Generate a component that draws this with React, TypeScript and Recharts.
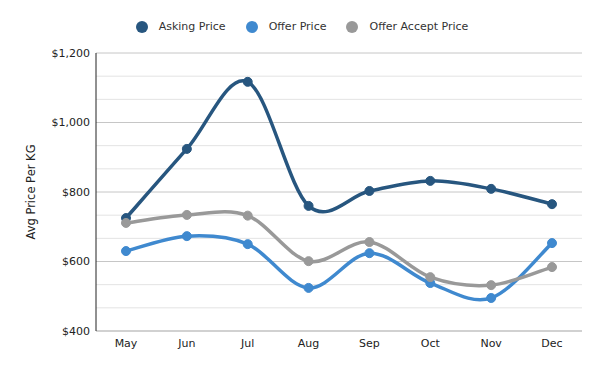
import React from 'react';
import { LineChart, Line, XAxis, YAxis, CartesianGrid, Legend } from 'recharts';

const months = ['May', 'Jun', 'Jul', 'Aug', 'Sep', 'Oct', 'Nov', 'Dec'];
const askingPrice = [725, 924, 1117, 760, 803, 832, 809, 765];
const offerPrice = [630, 673, 650, 524, 624, 538, 495, 653];
const offerAcceptPrice = [711, 734, 732, 601, 656, 555, 532, 584];

const majorTicks = [400, 600, 800, 1000, 1200];
const minorTicks = [466.67, 533.33, 666.67, 733.33, 866.67, 933.33, 1066.67, 1133.33];

const seriesInfo = [
  { key: 'asking', name: 'Asking Price', color: '#27567f' },
  { key: 'offer', name: 'Offer Price', color: '#3f89cf' },
  { key: 'accept', name: 'Offer Accept Price', color: '#999999' },
];

const chartData = months.map((m, i) => ({
  month: m,
  asking: askingPrice[i],
  offer: offerPrice[i],
  accept: offerAcceptPrice[i],
}));

const FONT = '"DejaVu Sans", Verdana, sans-serif';

// excel-like smoothing (catmull-rom through the points)
const smoothCurve = (context: any) => {
  let pts: number[][] = [];
  return {
    areaStart() {},
    areaEnd() {},
    lineStart() { pts = []; },
    point(x: number, y: number) { pts.push([+x, +y]); },
    lineEnd() {
      if (!pts.length) return;
      context.moveTo(pts[0][0], pts[0][1]);
      for (let i = 0; i < pts.length - 1; i++) {
        const p0 = pts[i - 1] || pts[i];
        const p1 = pts[i];
        const p2 = pts[i + 1];
        const p3 = pts[i + 2] || p2;
        context.bezierCurveTo(
          p1[0] + (p2[0] - p0[0]) / 6, p1[1] + (p2[1] - p0[1]) / 6,
          p2[0] - (p3[0] - p1[0]) / 6, p2[1] - (p3[1] - p1[1]) / 6,
          p2[0], p2[1]
        );
      }
    },
  };
};

const money = (v: number) => '$' + v.toLocaleString('en-US');

const renderLegend = () => (
  <div style={{ display: 'flex', justifyContent: 'center', alignItems: 'center', paddingLeft: 4, fontFamily: FONT, fontSize: 11, color: '#333' }}>
    {seriesInfo.map((s, i) => (
      <div key={s.key} style={{ display: 'flex', alignItems: 'center', marginRight: i < seriesInfo.length - 1 ? 20 : 0 }}>
        <span style={{ width: 12, height: 12, borderRadius: 6, background: s.color, marginRight: 11, display: 'inline-block' }} />
        <span>{s.name}</span>
      </div>
    ))}
  </div>
);

export default function App() {
  return (
    <div style={{ position: 'absolute', left: 0, top: 0, width: 600, height: 371, background: '#fff' }}>
      <LineChart width={600} height={371} data={chartData} margin={{ top: 53, right: 18, bottom: 10, left: 20 }}>
        <CartesianGrid yAxisId="left" vertical={false} stroke="#e3e3e3" horizontalValues={minorTicks} />
        <CartesianGrid yAxisId="left" vertical={false} stroke="#c6c6c6" />
        <XAxis
          dataKey="month"
          height={30}
          padding={{ left: 30, right: 30 }}
          tickLine={false}
          axisLine={{ stroke: '#bfbfbf' }}
          tick={{ fontSize: 11, fill: '#222', fontFamily: FONT }}
        />
        <YAxis
          yAxisId="left"
          width={76}
          domain={[400, 1200]}
          ticks={majorTicks}
          type="number"
          tickFormatter={money}
          tickLine={false}
          tickSize={4}
          tickMargin={2}
          axisLine={{ stroke: '#222' }}
          tick={{ fontSize: 11, fill: '#222', fontFamily: FONT }}
          label={{ value: 'Avg Price Per KG', angle: -90, position: 'center', dx: -27, style: { fontSize: 11.5, fill: '#222', fontFamily: FONT } }}
        />
        <Legend verticalAlign="middle" content={renderLegend} wrapperStyle={{ top: 20, left: 0, width: 600 }} />
        {seriesInfo.map((s) => (
          <Line
            key={s.key}
            yAxisId="left"
            dataKey={s.key}
            name={s.name}
            type={smoothCurve as any}
            stroke={s.color}
            strokeWidth={3.5}
            dot={{ r: 4.5, fill: s.color, stroke: s.color, strokeWidth: 1 }}
            activeDot={false}
            isAnimationActive={false}
          />
        ))}
      </LineChart>
    </div>
  );
}
